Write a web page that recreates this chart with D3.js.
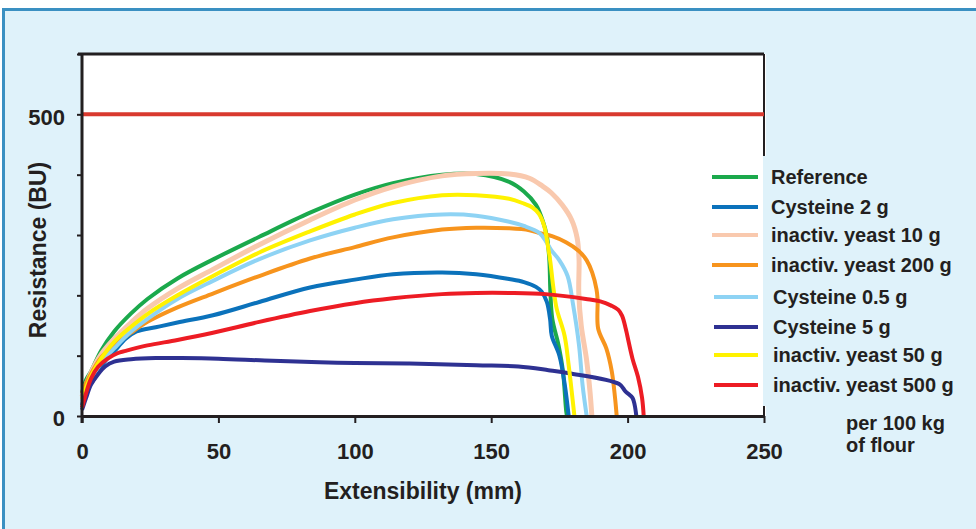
<!DOCTYPE html>
<html><head><meta charset="utf-8">
<script src="https://cdn.jsdelivr.net/npm/d3@7"></script>
<style>
html,body{margin:0;padding:0;background:#fff;}
svg{display:block;font-family:"Liberation Sans",Arial,Helvetica,sans-serif;}
</style></head>
<body><svg id="c" width="976" height="529"></svg>
<script>
// ---- data ----
const seriesNames = ["Reference","Cysteine 2 g","inactiv. yeast 10 g","inactiv. yeast 200 g","Cysteine 0.5 g","Cysteine 5 g","inactiv. yeast 50 g","inactiv. yeast 500 g"];
const seriesColors = ["#1ba94c","#0b72bb","#f9c9ae","#f7941d","#8ed3f4","#2e3192","#fff200","#ed1c24"];
const reference = [[0,38],[1.5,60],[3.3,74],[7,108],[11.8,140],[18,170],[24,194],[35,228],[48.3,260],[65,297],[83.6,337],[100,367],[114,386],[132,400],[144.5,401],[156.6,388],[162,372],[166.4,350],[169,322],[170.4,298],[171.3,260],[171.7,205],[172.4,161],[174.7,117],[176.3,74],[177.5,8],[177.8,0]];
const cysteine2 = [[0,18],[1.5,40],[4.5,62],[8,88],[11.8,107],[16,128],[20,140],[27,147],[35,155],[48,167],[65,189],[83.6,213],[100,226],[114,235],[132,238],[144.5,235],[156.6,227],[162,222],[166.4,214],[168.5,206],[170.4,189],[171.6,160],[172.2,133],[175,100],[177,51],[178.4,0]];
const yeast10 = [[0,32],[1.5,52],[3.3,72],[7,102],[11.8,128],[18,155],[24,178],[35,211],[48,243],[65,284],[83.6,325],[100,358],[114,380],[132,398],[144.5,402],[156.6,401],[164,394],[168.8,381],[172,370],[176,350],[179.5,325],[181.5,295],[182.2,260],[182.1,205],[183,150],[184.9,95],[186.2,41],[186.9,0]];
const yeast200 = [[0,38],[1.5,55],[3.3,70],[7,97],[11.8,117],[18,138],[24,156],[35,180],[48,203],[65,232],[83.6,261],[100,280],[114,296],[132,309],[144.5,312],[156.6,311],[164,308],[168,303],[172.3,298],[177.4,288],[182,274],[185,258],[187,238],[188.6,210],[189,194],[189.2,145],[192.2,112],[194.2,74],[195.4,30],[196,0]];
const cysteine05 = [[0,24],[3.3,58],[7,88],[11.8,112],[18,140],[24,161],[35,194],[48,224],[65,260],[83.6,291],[100,312],[114,326],[132,334],[144.5,332],[156.6,322],[162,315],[167.5,304],[170,290],[172,275],[175,258],[178,232],[180,185],[182.2,117],[183.5,51],[185,0]];
const cysteine5 = [[0,10],[1.5,30],[3.3,52],[5.7,68],[8.5,82],[11.8,90],[18,94],[27,96],[36.5,96],[50,95],[67,92],[87,89],[100,88],[120,87],[144.5,84],[160,82],[171,76],[178.5,71],[196.9,53],[199.2,41],[201.8,30],[202.6,18],[203.2,0]];
const yeast50 = [[0,28],[3.3,66],[7,95],[11.8,123],[18,148],[24,169],[35,200],[48,232],[65,271],[83.6,306],[100,334],[114,353],[132,366],[144.5,366],[156.6,360],[162,352],[165,346],[167.5,335],[169.5,314],[170.6,287],[171.7,255],[172.7,216],[174,178],[176.9,133],[178.4,84],[179.5,41],[180.5,0]];
const yeast500 = [[0,14],[1.5,38],[3.3,62],[6,82],[9.4,95],[13,104],[16,108],[24,117],[35,126],[48,138],[65,156],[83.6,174],[100,187],[114,195],[132,202],[144.5,204],[156.6,204],[170,202],[184.7,194],[190,190],[194,183],[196.6,176],[198,166],[199.3,145],[199.9,133],[201.8,95],[203.8,65],[205.3,30],[205.9,0]];
const seriesData = [reference,cysteine2,yeast10,yeast200,cysteine05,cysteine5,yeast50,yeast500];
const limitValue = 500;
const xTicks = [0,50,100,150,200,250];
const yTicks = [0,100,200,300,400,500,600];
const yTickLabels = {0:"0",500:"500"};
const xTitle = "Extensibility (mm)";
const yTitle = "Resistance (BU)";
const noteLines = ["per 100 kg","of flour"];

// ---- layout ----
const svg = d3.select("#c");
const X0=82, X1=764, Y0=416, Y1=54;
const x = d3.scaleLinear().domain([0,250]).range([X0,X1]);
const y = d3.scaleLinear().domain([0,600]).range([Y0,Y1]);
const ink = "#231f20";

svg.append("rect").attr("x",3.5).attr("y",9.5).attr("width",980).attr("height",530)
  .attr("fill","#dff2fa").attr("stroke","#3a90c2").attr("stroke-width",3);

// plot background
svg.append("rect").attr("x",X0).attr("y",Y1).attr("width",X1-X0+2).attr("height",Y0-Y1).attr("fill","#fff");

// frame top and right
svg.append("line").attr("x1",X0-4).attr("x2",X1).attr("y1",Y1).attr("y2",Y1).attr("stroke",ink).attr("stroke-width",3);
svg.append("line").attr("x1",X1).attr("x2",X1).attr("y1",Y1).attr("y2",Y0).attr("stroke",ink).attr("stroke-width",2);

// limit line
svg.append("line").attr("x1",x(0)).attr("x2",x(250)).attr("y1",y(limitValue)).attr("y2",y(limitValue))
  .attr("stroke","#d9392e").attr("stroke-width",4);

// curves
const line = d3.line().x(d=>x(d[0])).y(d=>y(d[1])).curve(d3.curveCatmullRom.alpha(0.5));
seriesData.forEach((s,i)=>{
  svg.append("path").attr("d",line(s)).attr("fill","none")
    .attr("stroke",seriesColors[i]).attr("stroke-width", i===2?5:4)
    .attr("stroke-linejoin","round").attr("stroke-linecap","butt");
});

// legend background (covers right frame)
svg.append("rect").attr("x",X1-1).attr("y",156).attr("width",220).attr("height",250).attr("fill","#dff2fa");

// axes
const xAxis = svg.append("g").attr("transform",`translate(0,${Y0})`)
  .call(d3.axisBottom(x).tickValues(xTicks).tickSize(7).tickSizeOuter(0).tickFormat(d3.format("d")));
const yAxis = svg.append("g").attr("transform",`translate(${X0},0)`)
  .call(d3.axisLeft(y).tickValues(yTicks).tickSize(5).tickSizeOuter(0).tickPadding(12).tickFormat(d=>yTickLabels[d]||""));
[xAxis,yAxis].forEach(g=>{
  g.select(".domain").attr("stroke",ink).attr("stroke-width",3);
  g.selectAll(".tick line").attr("stroke",ink).attr("stroke-width",2);
  g.selectAll("text").attr("fill",ink).style("font-size","22px").style("font-weight","bold")
    .style("font-family","'Liberation Sans',Arial,sans-serif");
});
xAxis.selectAll("text").attr("y",43).attr("dy",0);
yAxis.selectAll("text").attr("dy","0.45em");
yAxis.select(".domain").attr("d",`M0,${Y0+7}V${Y1}`);

// titles
svg.append("text").attr("x",(X0+X1)/2).attr("y",499).attr("text-anchor","middle")
  .attr("fill",ink).style("font-size","23px").style("font-weight","bold").text(xTitle);
svg.append("text").attr("transform",`translate(46,${250}) rotate(-90)`).attr("text-anchor","middle")
  .attr("fill",ink).style("font-size","23px").style("font-weight","bold").text(yTitle);

// legend
const legY = [177,207,235,265,297,327,355,385];
seriesNames.forEach((n,i)=>{
  const lx0 = i<4?712:714, tx = i<4?771:773;
  svg.append("line").attr("x1",lx0).attr("x2",758).attr("y1",legY[i]).attr("y2",legY[i])
    .attr("stroke",seriesColors[i]).attr("stroke-width",4);
  svg.append("text").attr("x",tx).attr("y",legY[i]+6.5).attr("fill",ink)
    .style("font-size","20px").style("font-weight","bold").text(n);
});
noteLines.forEach((t,i)=>{
  svg.append("text").attr("x",846).attr("y",430+i*21.7).attr("fill",ink)
    .style("font-size","20px").style("font-weight","bold").text(t);
});
</script></body></html>
